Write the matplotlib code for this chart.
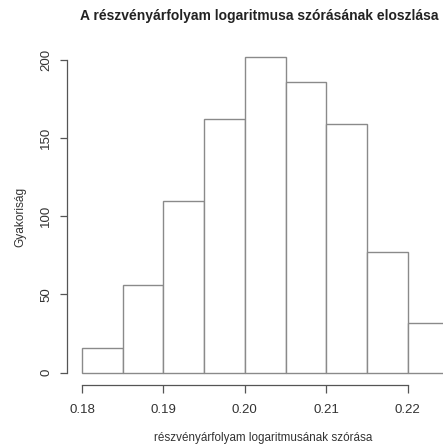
import matplotlib
matplotlib.use("Agg")
import matplotlib.pyplot as plt
import numpy as np

bin_edges = [0.180, 0.185, 0.190, 0.195, 0.200, 0.205, 0.210, 0.215, 0.220, 0.225]
counts = [16, 56, 110, 162, 202, 186, 159, 77, 32]
x_ticks = [0.18, 0.19, 0.20, 0.21, 0.22]
x_tick_labels = ["0.18", "0.19", "0.20", "0.21", "0.22"]
y_ticks = [0, 50, 100, 150, 200]

title = "A részvényárfolyam logaritmusa szórásának eloszlása"
xlabel = "részvényárfolyam logaritmusának szórása"
ylabel = "Gyakoriság"

plt.rcParams['font.family'] = ['Liberation Sans', 'DejaVu Sans']

W, H = 443, 444
fig = plt.figure(figsize=(W / 100, H / 100), dpi=100)

left_px, right_px = 67.3, 463.0
top_px, bottom_px = 44.2, 385.3
ax = fig.add_axes([left_px / W, 1 - bottom_px / H,
                   (right_px - left_px) / W, (bottom_px - top_px) / H])

xr = bin_edges[-1] - bin_edges[0]
ax.set_xlim(bin_edges[0] - 0.04 * xr, bin_edges[-1] + 0.04 * xr)
ymax = max(counts)
ax.set_ylim(-0.04 * ymax, ymax * 1.04)

widths = np.diff(bin_edges)
ax.bar(bin_edges[:-1], counts, width=widths, align='edge',
       facecolor='white', edgecolor='#8a8a8a', linewidth=1.0)

for s in ['top', 'right']:
    ax.spines[s].set_visible(False)
ax.spines['left'].set_bounds(y_ticks[0], y_ticks[-1])
ax.spines['bottom'].set_bounds(x_ticks[0], x_ticks[-1])
for s in ['left', 'bottom']:
    ax.spines[s].set_color('#555555')
    ax.spines[s].set_linewidth(0.9)

ax.set_xticks(x_ticks)
ax.set_xticklabels(x_tick_labels)
ax.set_yticks(y_ticks)
ax.set_yticklabels([str(v) for v in y_ticks], rotation=90, va='center')
ax.tick_params(axis='both', colors='#555555', labelcolor='#333333',
               direction='out', width=0.9, labelsize=9.5)
ax.tick_params(axis='x', length=5.8, pad=8)
ax.tick_params(axis='y', length=5, pad=6)

fig.text(439 / W, 1 - 16 / H, title, ha='right', va='center',
         fontsize=10, fontweight='bold', color='#222222')
fig.text(263 / W, 1 - 438 / H, xlabel, ha='center', va='center',
         fontsize=8.4, color='#333333')
fig.text(20 / W, 1 - 217 / H, ylabel, ha='center', va='center',
         rotation=90, fontsize=8.6, color='#333333')

fig.savefig("out.png", dpi=100)
